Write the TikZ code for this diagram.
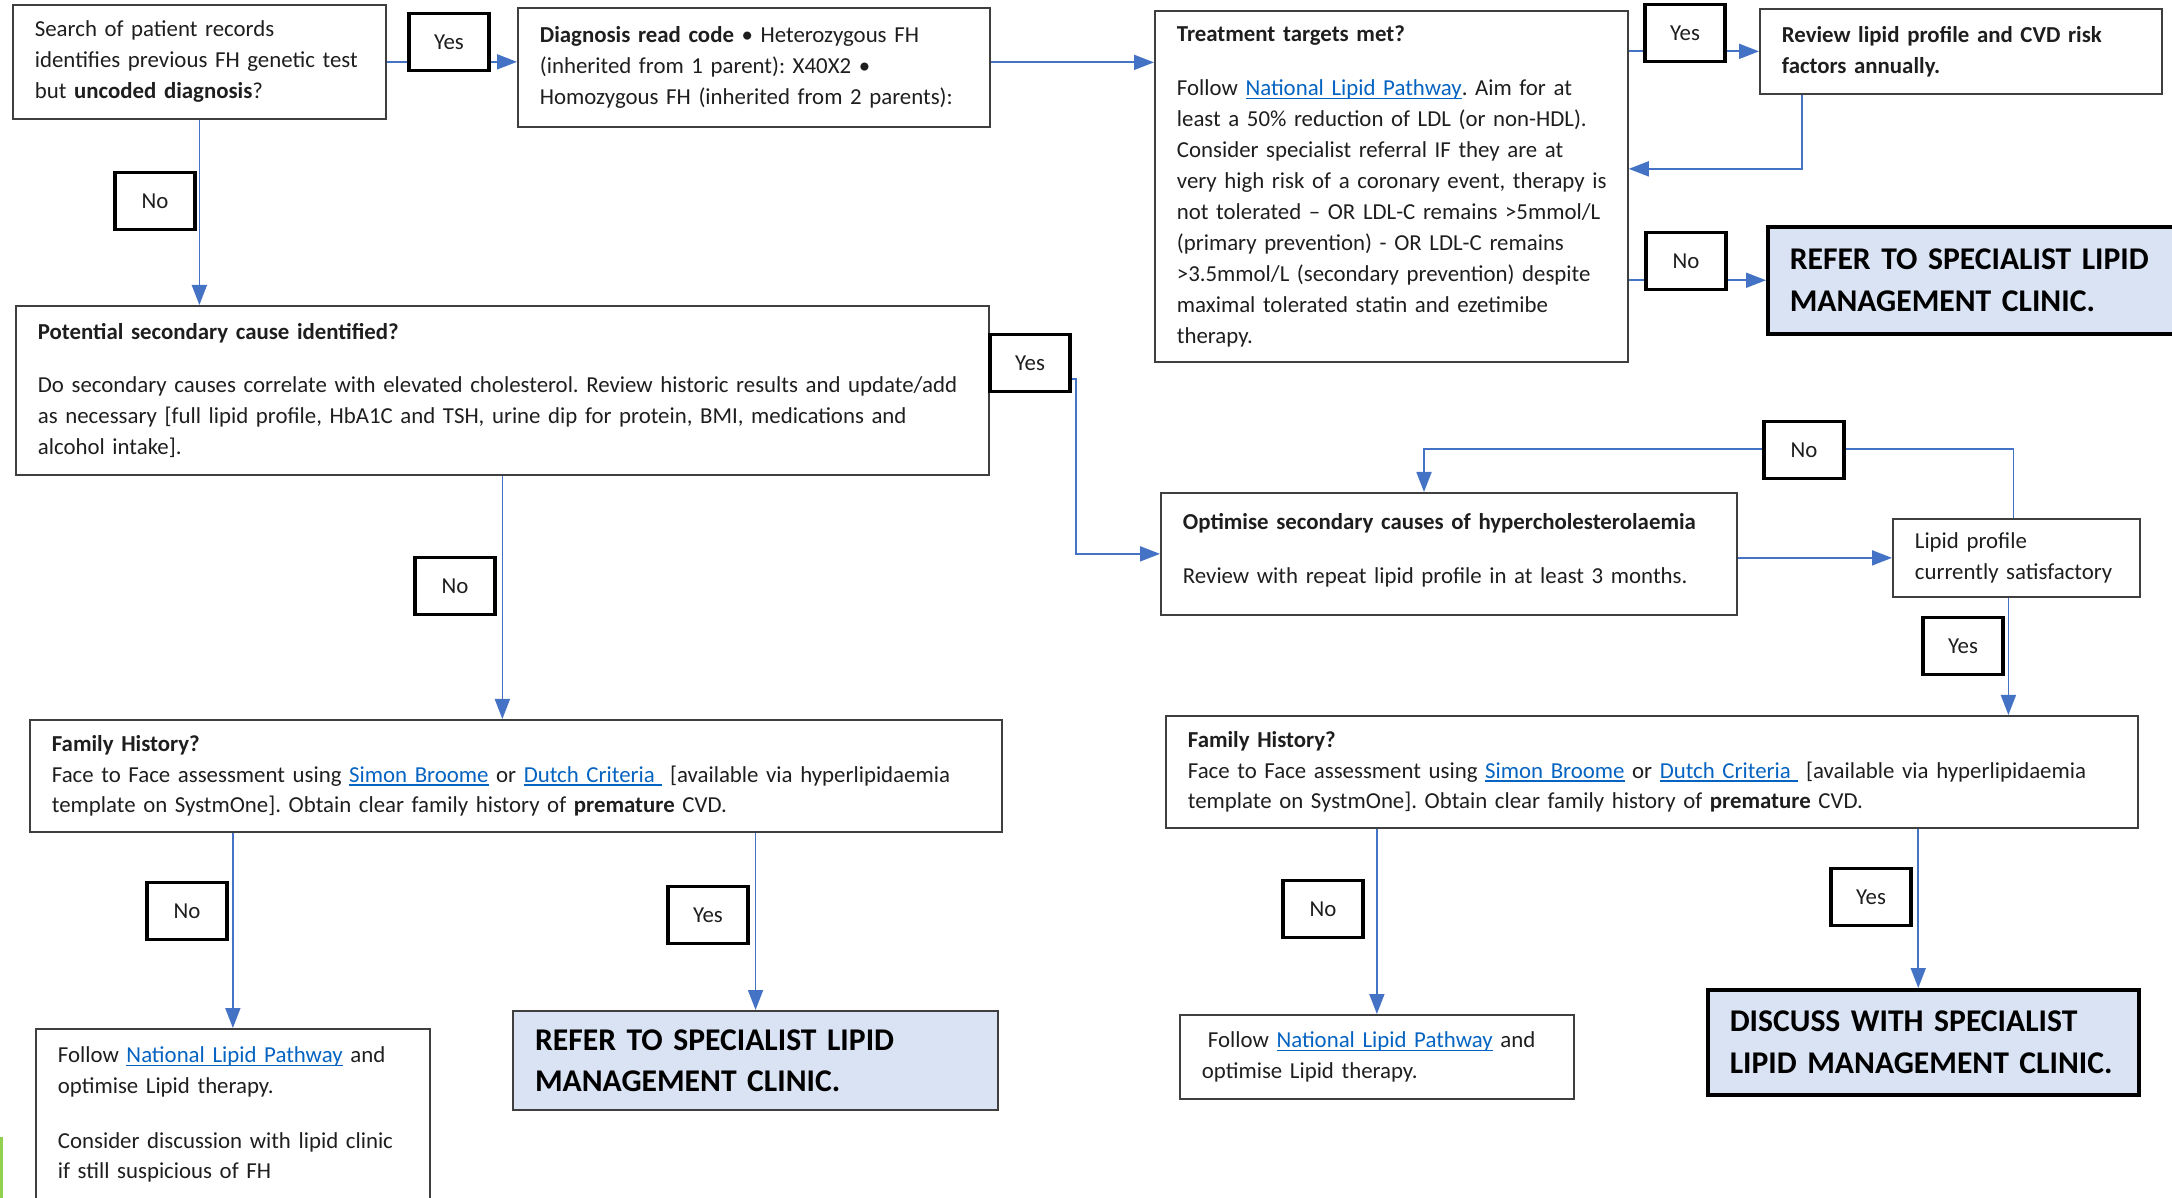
\documentclass[tikz,border=0pt]{standalone}
\usepackage{fontspec}
\setmainfont{Carlito}
\usetikzlibrary{arrows.meta}
\definecolor{flowblue}{HTML}{4472C4}
\definecolor{linkblue}{HTML}{0563C1}
\definecolor{referfill}{HTML}{DAE3F3}
\definecolor{edgegray}{HTML}{3F3F3F}
\definecolor{inkgray}{HTML}{1E1E1E}
\definecolor{sliver}{HTML}{92D050}
\newcommand{\lnk}[1]{{\color{linkblue}\setbox0\hbox{#1}\rlap{\rule[-1pt]{\wd0}{0.4pt}}\box0}}
\frenchspacing

\begin{document}
\begin{tikzpicture}[x=0.1mm, y=-0.1mm,
  box/.style 2 args={draw=edgegray, line width=0.5pt, anchor=north west, align=left,
    text width={#1-4.4mm}, minimum height=#2, inner xsep=2.2mm, inner ysep=0.5mm,
    font=\fontsize{6.5}{8.8}\selectfont, text=inkgray},
  refer/.style 2 args={box={#1}{#2}, fill=referfill, draw=black, line width=1pt,
    font=\fontsize{9}{11.8}\selectfont\bfseries, text=black},
  choice/.style={draw=black, line width=0.9pt, fill=white, minimum width=8mm,
    minimum height=5.7mm, inner sep=0pt, font=\fontsize{6.5}{8.8}\selectfont, text=inkgray},
  flow/.style={draw=flowblue, line width=0.5pt},
  >={Triangle[length=2mm,width=1.5mm]}]
		\useasboundingbox (0,0) rectangle (2172,1198);
		\node[box={37.3mm}{11.4mm}] (srch) at (12,4) {Search of patient records\\identifies previous FH genetic test\\but \textbf{uncoded diagnosis}?};
		\node[box={47.2mm}{11.9mm}] (diag) at (517,7) {\textbf{Diagnosis read code} • Heterozygous FH\\(inherited from 1 parent): X40X2 •\\Homozygous FH (inherited from 2 parents):};
		\node[box={47.3mm}{35.1mm}] (treat) at (1154,10) {\textbf{Treatment targets met?}\\[2.3mm]Follow \lnk{National Lipid Pathway}. Aim for at\\least a 50\% reduction of LDL (or non-HDL).\\Consider specialist referral IF they are at\\\mbox{very high risk of a coronary event, therapy is}\\not tolerated – OR LDL-C remains >5mmol/L\\(primary prevention) - OR LDL-C remains\\>3.5mmol/L (secondary prevention) despite\\maximal tolerated statin and ezetimibe\\therapy.};
		\node[box={40.2mm}{8.5mm}] (review) at (1759,8) {\textbf{Review lipid profile and CVD risk}\\\textbf{factors annually.}};
		\node[refer={42mm}{10.7mm}] (refer1) at (1766,225) {REFER TO SPECIALIST LIPID\\MANAGEMENT CLINIC.};
		\node[box={97.3mm}{16.9mm}] (second) at (15,305) {\textbf{Potential secondary cause identified?}\\[2.2mm]Do secondary causes correlate with elevated cholesterol. Review historic results and update/add\\as necessary [full lipid profile, HbA1C and TSH, urine dip for protein, BMI, medications and\\alcohol intake].};
		\node[box={57.6mm}{12.2mm}] (optim) at (1160,492) {\textbf{Optimise secondary causes of hypercholesterolaemia}\\[2.3mm]Review with repeat lipid profile in at least 3 months.\\[-2mm]\mbox{}};
		\node[box={24.7mm}{7.8mm}] (lipid) at (1892,518) {Lipid profile\\currently satisfactory};
		\node[box={97.2mm}{11.2mm}] (famL) at (29,719) {\textbf{Family History?}\\Face to Face assessment using \lnk{Simon Broome} or \lnk{Dutch Criteria\ } [available via hyperlipidaemia\\template on SystmOne]. Obtain clear family history of \textbf{premature} CVD.};
		\node[box={97.2mm}{11.2mm}] (famR) at (1165,715) {\textbf{Family History?}\\Face to Face assessment using \lnk{Simon Broome} or \lnk{Dutch Criteria\ } [available via hyperlipidaemia\\template on SystmOne]. Obtain clear family history of \textbf{premature} CVD.};
		\node[box={39.4mm}{22.9mm}] (follL) at (35,1028) {Follow \lnk{National Lipid Pathway} and\\optimise Lipid therapy.\\[2.35mm]Consider discussion with lipid clinic\\if still suspicious of FH\\[3mm]\mbox{}};
		\node[refer={48.5mm}{9.9mm}, draw=edgegray, line width=0.6pt] (referL) at (512,1010) {REFER TO SPECIALIST LIPID\\MANAGEMENT CLINIC.};
		\node[box={39.4mm}{8.4mm}] (follR) at (1179,1014) {\hspace*{0.6mm}Follow \lnk{National Lipid Pathway} and\\optimise Lipid therapy.};
		\node[refer={43.1mm}{10.5mm}] (discuss) at (1706,988) {DISCUSS WITH SPECIALIST\\LIPID MANAGEMENT CLINIC.};
		\draw[flow,->] (srch.east) -- (srch.east -| diag.west);
		\draw[flow,->] ([yshift=0.5mm]diag.east) -- ([yshift=0.5mm]diag.east -| treat.west);
		\draw[flow,->] (review.west -| treat.east) -- (review.west);
		\draw[flow,->] ([xshift=4.3mm]review.south west) |- ([yshift=1.75mm]treat.east);
		\draw[flow,->] (refer1.west -| treat.east) -- (refer1.west);
		\draw[flow,->] (srch.south) -- (srch.south |- second.north);
		\draw[flow,->] ([yshift=1.1mm]second.east) -- ++(86,0) |- (optim.west);
		\draw[flow,->] (second.south) -- (second.south |- famL.north);
		\draw[flow,->] (optim.east |- lipid.west) -- (lipid.west);
		\draw[flow,->] ([xshift=-0.3mm]lipid.north) |- ([xshift=26.4mm,yshift=4.3mm]optim.north west) -- ([xshift=26.4mm]optim.north west);
		\draw[flow,->] ([xshift=-0.8mm]lipid.south) -- ([xshift=-0.8mm]lipid.south |- famR.north);
		\draw[flow,->] (follL.north |- famL.south) -- (follL.north);
		\draw[flow,->] (referL.north |- famL.south) -- (referL.north);
		\draw[flow,->] (follR.north |- famR.south) -- (follR.north);
		\draw[flow,->] ([xshift=-0.5mm]discuss.north |- famR.south) -- ([xshift=-0.5mm]discuss.north);
		\node[choice] (yes1) at (449,42) {Yes};
		\node[choice] (no1) at (155,201) {No};
		\node[choice] (yes2) at (1685,33) {Yes};
		\node[choice] (no3) at (1686,261) {No};
		\node[choice] (yes4) at (1030,363) {Yes};
		\node[choice] (no2) at (455,586) {No};
		\node[choice] (no4) at (1804,450) {No};
		\node[choice] (yes5) at (1963,646) {Yes};
		\node[choice] (no5) at (187,911) {No};
		\node[choice] (yes6) at (708,915) {Yes};
		\node[choice] (no6) at (1323,909) {No};
		\node[choice] (yes7) at (1871,897) {Yes};
		\fill[sliver] (0,1137) rectangle (3,1198);
	\end{tikzpicture}
\end{document}
